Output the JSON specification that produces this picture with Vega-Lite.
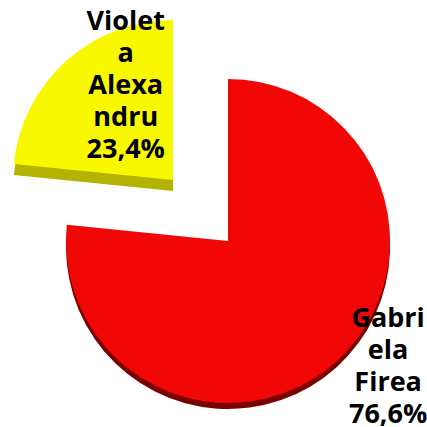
{
  "$schema": "https://vega.github.io/schema/vega-lite/v6.json",
  "width": 427,
  "height": 427,
  "autosize": {"type": "none"},
  "padding": 0,
  "background": "white",
  "view": {"stroke": null},
  "data": {
    "values": [
      {"name": "Gabriela Firea", "share": 76.6, "label": "Gabri\nela\nFirea\n76,6%"},
      {"name": "Violeta Alexandru", "share": 23.4, "label": "Violet\na\nAlexa\nndru\n23,4%"}
    ]
  },
  "encoding": {
    "theta": {"field": "share", "type": "quantitative", "stack": true}
  },
  "layer": [
    {
      "mark": {"type": "arc", "radius": 162, "xOffset": 14.5, "yOffset": 33.5, "color": "#7a0000"},
      "encoding": {"opacity": {"condition": {"test": "datum.name === 'Gabriela Firea'", "value": 1}, "value": 0}}
    },
    {
      "mark": {"type": "arc", "radius": 162, "xOffset": 14.5, "yOffset": 27.5, "color": "#f20707"},
      "encoding": {"opacity": {"condition": {"test": "datum.name === 'Gabriela Firea'", "value": 1}, "value": 0}}
    },
    {
      "mark": {"type": "arc", "radius": 160, "xOffset": -40.5, "yOffset": -22.5, "color": "#b3b300"},
      "encoding": {"opacity": {"condition": {"test": "datum.name === 'Violeta Alexandru'", "value": 1}, "value": 0}}
    },
    {
      "mark": {"type": "arc", "radius": 160, "xOffset": -40.5, "yOffset": -33.5, "color": "#f8f800"},
      "encoding": {"opacity": {"condition": {"test": "datum.name === 'Violeta Alexandru'", "value": 1}, "value": 0}}
    },
    {
      "mark": {"type": "text", "radius": 100, "xOffset": -20.7, "yOffset": -117, "font": "Open Sans", "fontSize": 27, "fontWeight": "bold", "lineBreak": "\n", "lineHeight": 32, "align": "center", "baseline": "middle", "color": "#000000"},
      "encoding": {"text": {"condition": {"test": "datum.name === 'Violeta Alexandru'", "field": "label"}, "value": ""}}
    },
    {
      "mark": {"type": "text", "radius": 180, "xOffset": 53.9, "yOffset": -28.1, "font": "Open Sans", "fontSize": 27, "fontWeight": "bold", "lineBreak": "\n", "lineHeight": 32, "align": "center", "baseline": "middle", "color": "#000000"},
      "encoding": {"text": {"condition": {"test": "datum.name === 'Gabriela Firea'", "field": "label"}, "value": ""}}
    }
  ]
}
